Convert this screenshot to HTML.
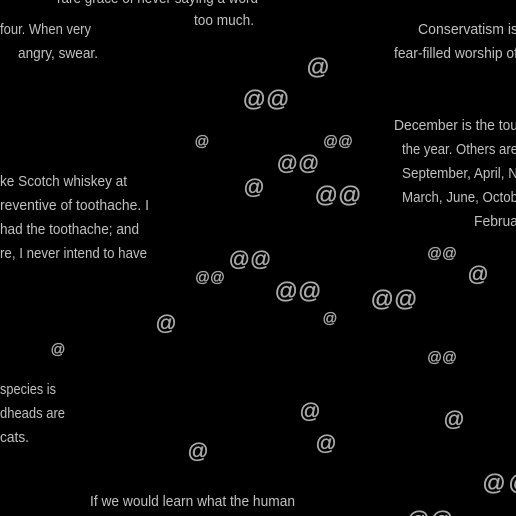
<!DOCTYPE html>
<html><head><meta charset="utf-8"><style>
html,body{margin:0;padding:0;background:#000;width:516px;height:516px;overflow:hidden}
svg{display:block}
.q{fill:#c0c0c0;font-family:"Liberation Sans Narrow","Liberation Sans",sans-serif;font-size:15px}
.a{font-family:"Liberation Sans Narrow","Liberation Sans",sans-serif;fill:#ababab;stroke:#ababab;stroke-width:0.3}
</style></head><body>
<svg width="516" height="516">
<rect width="516" height="516" fill="#000"/>
<g id="quotes"></g>
<g id="ats"></g>
</svg>
<script>
const quoteLines = ["rare grace of never saying a word","too much.","four. When very","angry, swear.","ke Scotch whiskey at","reventive of toothache. I","had the toothache; and","re, I never intend to have","Conservatism is","fear-filled worship of","December is the tou","the year. Others are","September, April, N","March, June, Octob","Februa","species is","dheads are","cats.","If we would learn what the human"];
const quoteX = [57,194,0,18,0,0,0,0,418,394,394,402,402,402,474,0,0,0,90];
const quoteY = [-2,20,29,53,181,205,229,253,29,53,125,149,173,197,221,389,413,437,501];
const quoteW = [201,60,91,80,127,149,139,147,100,124,124,116,116,116,44,56,65,29,205];
const atText = ["@","@@","@","@@","@@","@","@@","@@","@@","@@","@","@@","@@","@","@","@","@@","@","@","@","@","@","@","@@"];
const atX = [318,266,202,338,298,254,338,250,210,442,478,298,394,330,166,58,442,310,454,326,198,494,520,430];
const atY = [67,99,141,141,163,187,195,259,277,253,274,291,299,318,323,349,357,411,419,443,451,483,483,520];
const atS = [22,22,14,14,20,20,22,20,14,14,20,22,22,14,20,14,14,20,20,20,20,22,22,22];
const NS="http://www.w3.org/2000/svg";
const gq=document.getElementById('quotes');
quoteLines.forEach((t,i)=>{
  const e=document.createElementNS(NS,'text');
  
  
  e.setAttribute('class','q');
  e.setAttribute('x',quoteX[i]);
  e.setAttribute('y',quoteY[i]+5);
  e.setAttribute('textLength',quoteW[i]);
  e.setAttribute('lengthAdjust','spacingAndGlyphs');
  e.textContent=t;gq.appendChild(e);
});
const ga=document.getElementById('ats');
atText.forEach((t,i)=>{
  const e=document.createElementNS(NS,'text');
  
  
  e.setAttribute('class','a');
  e.setAttribute('x',atX[i]);
  e.setAttribute('y',atY[i]+atS[i]*0.35);
  e.setAttribute('text-anchor','middle');
  e.setAttribute('font-size',atS[i]*1.05);
  e.textContent=t;ga.appendChild(e);
});
</script>
</body></html>
